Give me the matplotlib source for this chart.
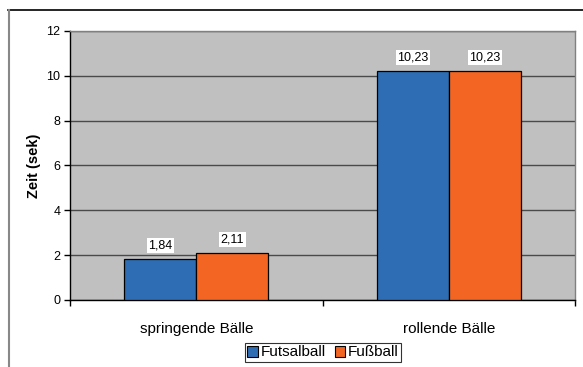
import matplotlib
matplotlib.use("Agg")
import matplotlib.pyplot as plt
from matplotlib.lines import Line2D
from matplotlib.patches import Rectangle
import numpy as np

plt.rcParams['font.family'] = ['Liberation Sans', 'DejaVu Sans']

categories = ["springende Bälle", "rollende Bälle"]
series_names = ["Futsalball", "Fußball"]
futsalball = [1.84, 10.23]
fussball = [2.11, 10.23]
yticks = [0, 2, 4, 6, 8, 10, 12]
colors = ["#2E6DB4", "#F26522"]

W, H = 583, 367
fig = plt.figure(figsize=(W / 100, H / 100), dpi=100)
fig.patch.set_facecolor("white")

ax = fig.add_axes([70 / W, 1 - 300 / H, 505 / W, 269 / H])
ax.set_facecolor("#C0C0C0")

x = np.arange(len(categories))
bw = 72 / 252
for i, (vals, c) in enumerate(zip([futsalball, fussball], colors)):
    pos = x - bw / 2 + i * bw
    ax.bar(pos, vals, width=bw, color=c, edgecolor="black", linewidth=0.9, zorder=3)
    for p, v in zip(pos, vals):
        ax.annotate(f"{v:.2f}".replace(".", ","), (p, v), xytext=(0, 5),
                    textcoords="offset points", ha="center", va="bottom",
                    fontsize=9, zorder=4,
                    bbox=dict(boxstyle="square,pad=0.12", fc="white", ec="none"))

ax.set_xlim(-0.5, 1.5)
ax.set_ylim(0, 12)
ax.set_yticks(yticks)
ax.set_yticklabels([str(t) for t in yticks], fontsize=9)
ax.yaxis.grid(True, color="#4A4A4A", linewidth=1.0, zorder=1)
ax.set_axisbelow(True)

ax.set_xticks(x)
ax.set_xticklabels(categories, fontsize=11)
ax.set_xticks([-0.5, 0.5, 1.5], minor=True)
ax.tick_params(axis="x", which="major", length=0, pad=16)
ax.tick_params(axis="x", which="minor", length=4, width=1, color="black")
ax.tick_params(axis="y", length=4, width=1, color="black", pad=3)

for s in ["top", "right"]:
    ax.spines[s].set_color("#808080")
    ax.spines[s].set_linewidth(1)
for s in ["left", "bottom"]:
    ax.spines[s].set_color("black")
    ax.spines[s].set_linewidth(1)

ax.set_ylabel("Zeit (sek)", fontsize=10.5, fontweight="bold", labelpad=4)

handles = [Rectangle((0, 0), 1, 1, fc=c, ec="black", lw=0.8) for c in colors]
leg = fig.legend(handles, series_names, loc="center", bbox_to_anchor=(323 / W, 1 - 352.5 / H),
                 ncol=2, fontsize=11, frameon=True, fancybox=False, edgecolor="black",
                 handlelength=0.7, handleheight=0.7, handletextpad=0.15,
                 columnspacing=0.6, borderpad=0.15, borderaxespad=0)
leg.get_frame().set_linewidth(0.8)

# chart frame lines
fig.add_artist(Line2D([8 / W, 1], [1 - 10 / H, 1 - 10 / H], color="black", lw=1.2))
fig.add_artist(Line2D([8.5 / W, 8.5 / W], [0, 1 - 10 / H], color="#888888", lw=1.5))

fig.savefig("out.png", dpi=100)
